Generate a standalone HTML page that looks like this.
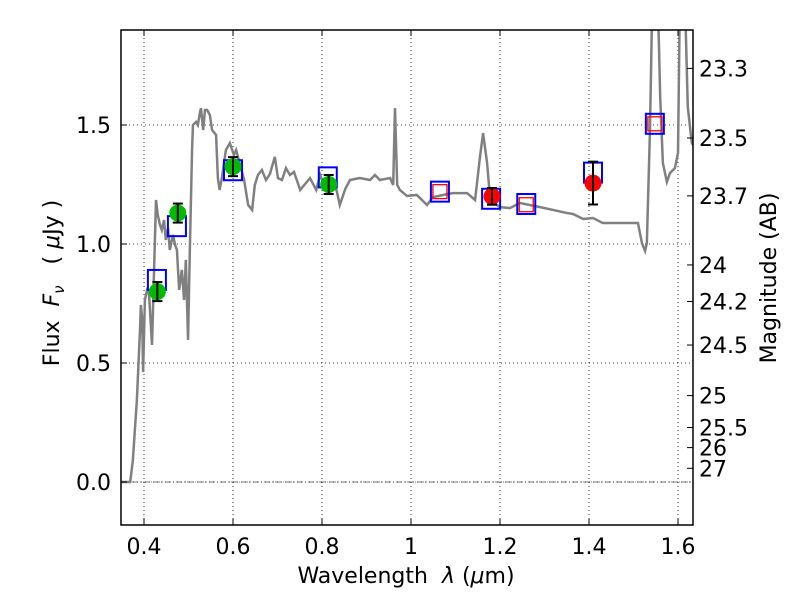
<!DOCTYPE html>
<html><head><meta charset="utf-8"><style>
body{margin:0;background:#fff;}
svg text{font-family:"DejaVu Sans","Liberation Sans",sans-serif;white-space:pre;}
</style></head><body>
<svg id="chart" width="800" height="600" xmlns="http://www.w3.org/2000/svg">
<defs><clipPath id="plotclip"><rect x="121" y="30" width="572" height="495"/></clipPath></defs>
<rect width="800" height="600" fill="#fff"/>
<g id="grid"></g>
<g id="series" clip-path="url(#plotclip)"></g>
<g id="axes"></g>
</svg>
<script>
const specX=[0.348,0.369,0.375,0.384,0.391,0.393,0.396,0.398,0.402,0.407,0.411,0.418,0.422,0.427,0.431,0.436,0.440,0.445,0.449,0.454,0.458,0.465,0.470,0.474,0.479,0.485,0.490,0.494,0.499,0.503,0.508,0.510,0.517,0.521,0.526,0.528,0.533,0.537,0.542,0.548,0.553,0.562,0.566,0.570,0.575,0.584,0.593,0.602,0.607,0.616,0.625,0.634,0.643,0.649,0.656,0.665,0.674,0.683,0.694,0.701,0.710,0.719,0.728,0.737,0.751,0.773,0.787,0.796,0.809,0.818,0.831,0.840,0.852,0.863,0.885,0.908,0.919,0.930,0.953,0.960,0.964,0.969,0.975,0.991,1.013,1.036,1.049,1.072,1.094,1.126,1.144,1.155,1.162,1.171,1.178,1.200,1.222,1.245,1.290,1.319,1.351,1.364,1.387,1.409,1.431,1.470,1.510,1.519,1.526,1.530,1.537,1.542,1.551,1.555,1.560,1.566,1.575,1.582,1.593,1.600,1.604,1.616,1.622,1.631,1.640];
const specY=[0,0,0.092,0.345,0.639,0.744,0.68,0.462,0.765,0.807,0.798,0.576,0.849,1.185,1.122,1.08,1.059,1.101,1.017,1.067,0.975,1.038,0.996,0.975,0.807,0.891,0.765,0.933,0.597,0.975,1.395,1.50,1.513,1.50,1.555,1.571,1.479,1.563,1.563,1.542,1.479,1.458,1.277,1.227,1.277,1.395,1.424,1.374,1.395,1.332,1.269,1.164,1.143,1.248,1.290,1.311,1.269,1.294,1.366,1.277,1.269,1.319,1.290,1.303,1.227,1.277,1.227,1.290,1.227,1.269,1.240,1.164,1.230,1.269,1.277,1.269,1.290,1.269,1.277,1.248,1.571,1.248,1.227,1.202,1.206,1.164,1.197,1.206,1.214,1.214,1.185,1.366,1.466,1.340,1.185,1.155,1.151,1.172,1.155,1.143,1.130,1.126,1.105,1.109,1.088,1.088,1.088,1.004,0.971,1.004,1.479,2.0,2.0,2.0,1.618,1.340,1.261,1.298,1.319,1.382,2.0,2.0,1.576,1.424,1.40];
const greenX=[0.43,0.476,0.60,0.815];
const greenY=[0.80,1.13,1.325,1.25];
const greenErr=[0.04,0.04,0.04,0.04];
const redX=[1.182,1.409];
const redY=[1.20,1.256];
const redErr=[0.035,0.09];
const blueX=[0.429,0.474,0.60,0.813,1.065,1.18,1.259,1.409,1.548];
const blueY=[0.849,1.075,1.31,1.28,1.22,1.19,1.168,1.30,1.505];
const rsqX=[1.065,1.259,1.548];
const rsqY=[1.22,1.165,1.505];
const xTicks=[0.4,0.6,0.8,1.0,1.2,1.4,1.6];
const xTickLabels=["0.4","0.6","0.8","1","1.2","1.4","1.6"];
const yTicks=[0,0.5,1.0,1.5];
const yTickLabels=["0.0","0.5","1.0","1.5"];
const magTicks=[23.3,23.5,23.7,24,24.2,24.5,25,25.5,26,27];
const magLabels=["23.3","23.5","23.7","24","24.2","24.5","25","25.5","26","27"];

const L=121,R=693,T=30,B=525;
const X=v=>144+(v-0.4)*445;
const Y=v=>482-v*238;
const NS="http://www.w3.org/2000/svg";
function mk(tag,attrs,parent){const e=document.createElementNS(NS,tag);for(const k in attrs)e.setAttribute(k,attrs[k]);parent.appendChild(e);return e;}
const grid=document.getElementById('grid'),ser=document.getElementById('series'),ax=document.getElementById('axes');

xTicks.forEach((t,i)=>{
 const g=mk('line',{x1:X(t),x2:X(t),y1:T,y2:B,stroke:'#000','stroke-width':0.8,'stroke-dasharray':'1,3'},grid);
 
 
 mk('line',{x1:X(t),x2:X(t),y1:B,y2:B-6,stroke:'#000'},ax);
 mk('line',{x1:X(t),x2:X(t),y1:T,y2:T+6,stroke:'#000'},ax);
 const tx=mk('text',{x:X(t),y:554,'font-size':22,'text-anchor':'middle'},ax);tx.textContent=xTickLabels[i];
 
 
});
yTicks.forEach((t,i)=>{
 const g=mk('line',{x1:L,x2:R,y1:Y(t),y2:Y(t),stroke:'#000','stroke-width':0.8,'stroke-dasharray':'1,3'},grid);
 
 
 mk('line',{x1:L,x2:L+6,y1:Y(t),y2:Y(t),stroke:'#000'},ax);
 const tx=mk('text',{x:111,y:Y(t)+8,'font-size':22,'text-anchor':'end'},ax);tx.textContent=yTickLabels[i];
 
 
});
magTicks.forEach((m,i)=>{
 const f=Math.pow(10,(23.9-m)/2.5);const y=Y(f);
 mk('line',{x1:R,x2:R-6,y1:y,y2:y,stroke:'#000'},ax);
 const tx=mk('text',{x:699,y:y+8,'font-size':22},ax);tx.textContent=magLabels[i];
 
 
});
const z=mk('line',{x1:L,x2:R,y1:Y(0),y2:Y(0),stroke:'#000','stroke-width':0.6,'stroke-dasharray':'6,2,1,2'},ser);


const sp=mk('polyline',{points:specX.map((x,i)=>X(x)+','+Y(specY[i])).join(' '),fill:'none',stroke:'#808080','stroke-width':2.5},ser);


blueX.forEach((x,i)=>{const s=mk('rect',{x:X(x)-9,y:Y(blueY[i])-10,width:18,height:20,fill:'none',stroke:'#0000ff','stroke-width':2},ser);
 
 });
rsqX.forEach((x,i)=>{const s=mk('rect',{x:X(x)-7,y:Y(rsqY[i])-7,width:14,height:14,fill:'none',stroke:'#ff0000','stroke-width':1.3},ser);
 
 });
function pts(xs,ys,es,col,name){xs.forEach((x,i)=>{
 const c=mk('circle',{cx:X(x),cy:Y(ys[i]),r:8.5,fill:col},ser);
 
 
 const y1=Y(ys[i]+es[i]),y2=Y(ys[i]-es[i]),cx=X(x);
 mk('line',{x1:cx,x2:cx,y1:y1,y2:y2,stroke:'#000','stroke-width':2},ser);
 mk('line',{x1:cx-5,x2:cx+5,y1:y1,y2:y1,stroke:'#000','stroke-width':2},ser);
 mk('line',{x1:cx-5,x2:cx+5,y1:y2,y2:y2,stroke:'#000','stroke-width':2},ser);
});}
pts(greenX,greenY,greenErr,'#00bb00','optical-flux-point');
pts(redX,redY,redErr,'#ff0000','nir-flux-point');
const fr=mk('rect',{x:L,y:T,width:R-L,height:B-T,fill:'none',stroke:'#000','stroke-width':1.5},ax);


const xl=mk('text',{x:406,y:583,'font-size':22,'text-anchor':'middle'},ax);
xl.innerHTML='Wavelength  <tspan font-style="italic">λ</tspan> (<tspan font-style="italic">μ</tspan>m)';


const yl=mk('text',{x:0,y:0,'font-size':22,'text-anchor':'middle',transform:'translate(59,283) rotate(-90)'},ax);
yl.innerHTML='Flux  <tspan font-style="italic">F</tspan><tspan font-size="15" font-style="italic" dy="5">ν</tspan><tspan dy="-5">   ( </tspan><tspan font-style="italic">μ</tspan>Jy )';


const rl=mk('text',{x:0,y:0,'font-size':22,'text-anchor':'middle',transform:'translate(776,278) rotate(-90)'},ax);rl.textContent='Magnitude (AB)';


</script>
</body></html>
